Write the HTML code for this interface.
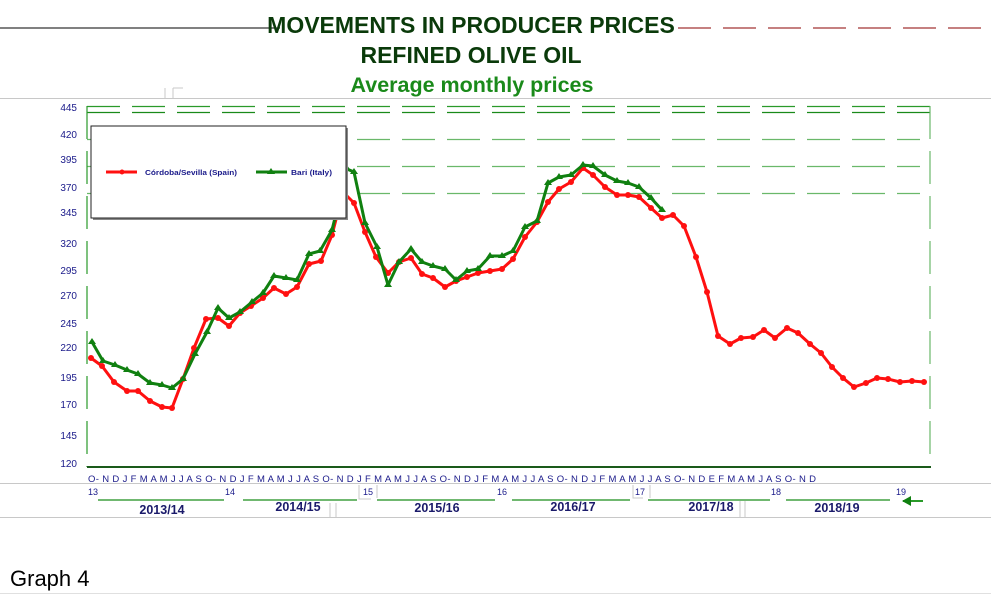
<!DOCTYPE html>
<html><head><meta charset="utf-8"><style>
html,body{margin:0;padding:0;background:#fff;}
svg{display:block;font-family:"Liberation Sans",Arial,sans-serif;}
</style></head><body>
<svg width="991" height="595" viewBox="0 0 991 595" xmlns="http://www.w3.org/2000/svg">
<line x1="0" y1="28" x2="280" y2="28" stroke="#000" stroke-width="1"/>
<line x1="678" y1="28" x2="991" y2="28" stroke="#8b0000" stroke-width="1" stroke-dasharray="33,12"/>
<text x="471" y="33" text-anchor="middle" font-size="23" font-weight="bold" fill="#0a3a0a">MOVEMENTS IN PRODUCER PRICES</text>
<text x="471" y="63" text-anchor="middle" font-size="23" font-weight="bold" fill="#0a3a0a">REFINED OLIVE OIL</text>
<text x="472" y="92" text-anchor="middle" font-size="21.5" font-weight="bold" fill="#1a8a1a">Average monthly prices</text>
<line x1="0" y1="98.5" x2="991" y2="98.5" stroke="#c8c8c8"/>
<line x1="165" y1="88" x2="165" y2="98" stroke="#c8c8c8"/><line x1="173" y1="88" x2="173" y2="98" stroke="#c8c8c8"/><line x1="173" y1="88" x2="183" y2="88" stroke="#c8c8c8"/>
<line x1="0" y1="483.5" x2="991" y2="483.5" stroke="#c8c8c8"/>
<line x1="0" y1="517.5" x2="991" y2="517.5" stroke="#c8c8c8"/>
<line x1="0" y1="593.5" x2="991" y2="593.5" stroke="#e0e0e0"/>
<!-- grid -->
<g stroke="#2a9a2a" stroke-width="1.2" stroke-dasharray="33,12" fill="none">
<line x1="87" y1="106.5" x2="930" y2="106.5"/>
<line x1="87" y1="112.5" x2="930" y2="112.5" stroke="#1a8a1a"/>
<line x1="87" y1="139.5" x2="920" y2="139.5" stroke="#6ab86a"/>
<line x1="87" y1="166.5" x2="920" y2="166.5" stroke="#6ab86a"/>
<line x1="87" y1="193.5" x2="920" y2="193.5" stroke="#6ab86a"/>
<line x1="930" y1="106" x2="930" y2="467" stroke="#6ab86a"/>
<line x1="87" y1="106" x2="87" y2="467"/>
</g>
<line x1="87" y1="467" x2="931" y2="467" stroke="#1a5a1a" stroke-width="2"/>
<g font-size="10" fill="#1a1a8a" text-anchor="end">
<text x="77" y="111">445</text><text x="77" y="138">420</text><text x="77" y="163">395</text><text x="77" y="191">370</text><text x="77" y="216">345</text><text x="77" y="247">320</text><text x="77" y="274">295</text><text x="77" y="299">270</text><text x="77" y="327">245</text><text x="77" y="351">220</text><text x="77" y="381">195</text><text x="77" y="408">170</text><text x="77" y="439">145</text><text x="77" y="467">120</text>
</g>
<!-- series -->
<polyline fill="none" stroke="#ff1010" stroke-width="3" stroke-linejoin="round" points="91,358 102,366 114,382 127,391 138,391 150,401 162,407 172,408 183,379 194,348 206,319 218,318 229,326 240,313 251,306 263,298 274,288 286,294 297,287 309,264 321,261 332,235 343,192 354,203 365,232 376,257 388,273 399,262 411,258 422,274 433,278 445,287 456,281 467,277 478,273 490,271 502,269 513,259 525,237 537,222 548,202 559,189 571,182 583,168 593,175 605,187 617,195 628,195 639,197 651,208 662,218 673,215 684,226 696,257 707,292 718,336 730,344 741,338 753,337 764,330 775,338 787,328 798,333 810,344 821,353 832,367 843,378 854,387 866,383 877,378 888,379 900,382 912,381 924,382"/>
<g fill="#ff1010">
<circle cx="91" cy="358" r="3"/><circle cx="102" cy="366" r="3"/><circle cx="114" cy="382" r="3"/><circle cx="127" cy="391" r="3"/><circle cx="138" cy="391" r="3"/><circle cx="150" cy="401" r="3"/><circle cx="162" cy="407" r="3"/><circle cx="172" cy="408" r="3"/><circle cx="183" cy="379" r="3"/><circle cx="194" cy="348" r="3"/><circle cx="206" cy="319" r="3"/><circle cx="218" cy="318" r="3"/><circle cx="229" cy="326" r="3"/><circle cx="240" cy="313" r="3"/><circle cx="251" cy="306" r="3"/><circle cx="263" cy="298" r="3"/><circle cx="274" cy="288" r="3"/><circle cx="286" cy="294" r="3"/><circle cx="297" cy="287" r="3"/><circle cx="309" cy="264" r="3"/><circle cx="321" cy="261" r="3"/><circle cx="332" cy="235" r="3"/><circle cx="354" cy="203" r="3"/><circle cx="365" cy="232" r="3"/><circle cx="376" cy="257" r="3"/><circle cx="388" cy="273" r="3"/><circle cx="399" cy="262" r="3"/><circle cx="411" cy="258" r="3"/><circle cx="422" cy="274" r="3"/><circle cx="433" cy="278" r="3"/><circle cx="445" cy="287" r="3"/><circle cx="456" cy="281" r="3"/><circle cx="467" cy="277" r="3"/><circle cx="478" cy="273" r="3"/><circle cx="490" cy="271" r="3"/><circle cx="502" cy="269" r="3"/><circle cx="513" cy="259" r="3"/><circle cx="525" cy="237" r="3"/><circle cx="537" cy="222" r="3"/><circle cx="548" cy="202" r="3"/><circle cx="559" cy="189" r="3"/><circle cx="571" cy="182" r="3"/><circle cx="583" cy="168" r="3"/><circle cx="593" cy="175" r="3"/><circle cx="605" cy="187" r="3"/><circle cx="617" cy="195" r="3"/><circle cx="628" cy="195" r="3"/><circle cx="639" cy="197" r="3"/><circle cx="651" cy="208" r="3"/><circle cx="662" cy="218" r="3"/><circle cx="673" cy="215" r="3"/><circle cx="684" cy="226" r="3"/><circle cx="696" cy="257" r="3"/><circle cx="707" cy="292" r="3"/><circle cx="718" cy="336" r="3"/><circle cx="730" cy="344" r="3"/><circle cx="741" cy="338" r="3"/><circle cx="753" cy="337" r="3"/><circle cx="764" cy="330" r="3"/><circle cx="775" cy="338" r="3"/><circle cx="787" cy="328" r="3"/><circle cx="798" cy="333" r="3"/><circle cx="810" cy="344" r="3"/><circle cx="821" cy="353" r="3"/><circle cx="832" cy="367" r="3"/><circle cx="843" cy="378" r="3"/><circle cx="854" cy="387" r="3"/><circle cx="866" cy="383" r="3"/><circle cx="877" cy="378" r="3"/><circle cx="888" cy="379" r="3"/><circle cx="900" cy="382" r="3"/><circle cx="912" cy="381" r="3"/><circle cx="924" cy="382" r="3"/>
</g>
<polyline fill="none" stroke="#108010" stroke-width="3" stroke-linejoin="round" points="92,342 103,361 115,365 127,370 138,374 150,383 162,385 172,388 183,379 195,354 207,332 218,308 229,318 240,312 252,302 263,293 274,276 286,278 297,280 309,254 320,251 332,230 342,190 347,169 354,172 365,223 377,247 388,285 399,262 411,249 422,262 433,266 445,269 456,280 467,271 478,269 490,256 502,256 513,251 525,227 537,221 548,183 559,177 571,175 583,165 593,166 605,175 617,181 628,183 639,187 651,198 662,210"/>
<g fill="#108010">
<path d="M92,338l4,6h-8z M103,357l4,6h-8z M115,361l4,6h-8z M127,366l4,6h-8z M138,370l4,6h-8z M150,379l4,6h-8z M162,381l4,6h-8z M172,384l4,6h-8z M183,375l4,6h-8z M195,350l4,6h-8z M207,328l4,6h-8z M218,304l4,6h-8z M229,314l4,6h-8z M240,308l4,6h-8z M252,298l4,6h-8z M263,289l4,6h-8z M274,272l4,6h-8z M286,274l4,6h-8z M297,276l4,6h-8z M309,250l4,6h-8z M320,247l4,6h-8z M332,226l4,6h-8z M347,165l4,6h-8z M354,168l4,6h-8z M365,219l4,6h-8z M377,243l4,6h-8z M388,281l4,6h-8z M399,258l4,6h-8z M411,245l4,6h-8z M422,258l4,6h-8z M433,262l4,6h-8z M445,265l4,6h-8z M456,276l4,6h-8z M467,267l4,6h-8z M478,265l4,6h-8z M490,252l4,6h-8z M502,252l4,6h-8z M513,247l4,6h-8z M525,223l4,6h-8z M537,217l4,6h-8z M548,179l4,6h-8z M559,173l4,6h-8z M571,171l4,6h-8z M583,161l4,6h-8z M593,162l4,6h-8z M605,171l4,6h-8z M617,177l4,6h-8z M628,179l4,6h-8z M639,183l4,6h-8z M651,194l4,6h-8z M662,206l4,6h-8z"/>
</g>
<!-- legend -->
<rect x="93" y="128" width="255" height="92" fill="#888"/>
<rect x="91" y="126" width="255" height="92" fill="#fff" stroke="#222" stroke-width="1"/>
<line x1="106" y1="172" x2="137" y2="172" stroke="#ff1010" stroke-width="3"/><circle cx="122" cy="172" r="2.5" fill="#ff1010"/>
<text x="145" y="175" font-size="7.5" font-weight="bold" fill="#1a1a8a" textLength="92" lengthAdjust="spacingAndGlyphs">Córdoba/Sevilla (Spain)</text>
<line x1="256" y1="172" x2="287" y2="172" stroke="#108010" stroke-width="3"/><path d="M271,168l4,6h-8z" fill="#108010"/>
<text x="291" y="175" font-size="7.5" font-weight="bold" fill="#1a1a8a" textLength="41" lengthAdjust="spacingAndGlyphs">Bari (Italy)</text>
<!-- x axis labels -->
<text x="88" y="482" font-size="9.5" fill="#1a1a8a" textLength="728" lengthAdjust="spacing">O- N D J F M A M J J A S O- N D J F M A M J J A S O- N D J F M A M J J A S O- N D J F M A M J J A S O- N D J F M A M J J A S O- N D E F M A M J A S O- N D</text>
<g font-size="9" fill="#1a1a8a">
<text x="88" y="495">13</text><text x="225" y="495">14</text><text x="363" y="495">15</text><text x="497" y="495">16</text><text x="635" y="495">17</text><text x="771" y="495">18</text><text x="896" y="495">19</text>
</g>
<g stroke="#c8c8c8" fill="none"><path d="M359,485v14h12"/><path d="M377,485v13"/><path d="M633,485v13h10"/><path d="M650,485v13"/><path d="M330,503v14M336,503v14"/><path d="M740,500v17M745,500v17"/></g>
<g stroke="#70b870" stroke-width="2">
<line x1="98" y1="500" x2="224" y2="500"/><line x1="243" y1="500" x2="357" y2="500"/><line x1="377" y1="500" x2="495" y2="500"/><line x1="512" y1="500" x2="630" y2="500"/><line x1="648" y1="500" x2="770" y2="500"/><line x1="786" y1="500" x2="890" y2="500"/>
</g>
<path d="M903,501h20" stroke="#2a9a2a" stroke-width="2"/><path d="M902,501l9,-5v10z" fill="#108010"/>
<g font-size="12.5" font-weight="bold" fill="#1a1a6a" text-anchor="middle">
<text x="162" y="514">2013/14</text><text x="298" y="511">2014/15</text><text x="437" y="512">2015/16</text><text x="573" y="511">2016/17</text><text x="711" y="511">2017/18</text><text x="837" y="512">2018/19</text>
</g>
<text x="10" y="586" font-size="22" fill="#000">Graph 4</text>
</svg>
</body></html>
